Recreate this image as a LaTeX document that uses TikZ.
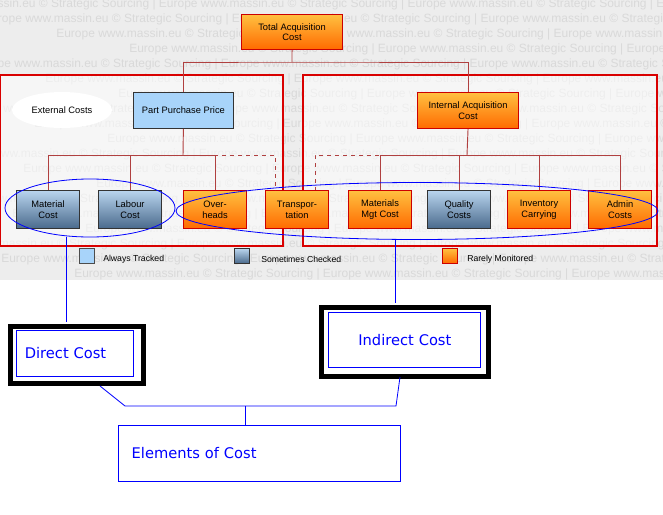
\documentclass[tikz,border=0pt]{standalone}
\usepackage{fontspec}
\usetikzlibrary{shapes.geometric}
\setmainfont{Liberation Sans}
\newfontfamily\dvs{DejaVu Sans}
\definecolor{skyb}{HTML}{A8D4FA}
\definecolor{sbtop}{HTML}{B8D4EE}
\definecolor{sbbot}{HTML}{4A6A8C}
\definecolor{orTop}{HTML}{FFC040}
\definecolor{orBot}{HTML}{FF6A00}
\definecolor{busc}{HTML}{B04040}
\begin{document}
\begin{tikzpicture}[x=0.75pt,y=-0.75pt,
  org/.style={draw=red!80!black,line width=0.8pt,top color=orTop,bottom color=orBot,font=\fontsize{7}{8}\selectfont,align=center,inner sep=0pt,anchor=north west},
  sbl/.style={draw=black!80,line width=0.8pt,top color=sbtop,bottom color=sbbot,font=\fontsize{7}{8}\selectfont,align=center,inner sep=0pt,anchor=north west},
  lbl/.style={draw=black!80,line width=0.6pt,fill=skyb,font=\fontsize{7}{8}\selectfont,align=center,inner sep=0pt,anchor=north west},
  bus/.style={draw=busc,line width=0.7pt},
  dbus/.style={bus,dashed},
  redbox/.style={draw=red!85!black,line width=1pt,fill=white,fill opacity=0.55},
  bel/.style={draw=blue,line width=0.6pt},
  wm/.style={text=black!15,font=\fontsize{9}{9}\selectfont,anchor=west,inner sep=0pt}]
\useasboundingbox (0,0) rectangle (663,514);
\fill[black!7] (0,0) rectangle (663,280);
\begin{scope}
\clip (0,0) rectangle (663,280);
\foreach \i in {0,...,18}{
  \pgfmathsetmacro\yy{4+15*\i}
  \pgfmathsetmacro\xx{-90+mod(\i*73,230)}
  \node[wm] (w\i) at (\xx,\yy) {Europe www.massin.eu © Strategic Sourcing | Europe www.massin.eu © Strategic Sourcing | Europe www.massin.eu © Strategic Sourcing | Europe www.massin.eu © Strategic Sourcing};
}
\end{scope}
\draw[redbox] (0,75) rectangle (283,246);
\draw[redbox] (303,75) rectangle (657,246);
% top nodes
\node[org,minimum width=101pt*0.75,minimum height=35pt*0.75] (tac) at (241,14) {Total Acquisition\\Cost};
\node[lbl,minimum width=100pt*0.75,minimum height=36pt*0.75] (ppp) at (133,92) {Part Purchase Price};
\node[org,minimum width=101pt*0.75,minimum height=36pt*0.75] (iac) at (417,92) {Internal Acquisition\\Cost};
\node[ellipse,fill=white,minimum width=100pt*0.75,minimum height=36pt*0.75,font=\fontsize{7}{8}\selectfont] (ext) at (62,110) {External Costs};
% bottom row
\tikzset{bw/.style={minimum width=63pt*0.75,minimum height=38pt*0.75}}
\node[sbl,bw] (mat) at (16,190) {Material\\Cost};
\node[sbl,bw] (lab) at (98,190) {Labour\\Cost};
\node[org,bw] (ovh) at (183,190) {Over-\\heads};
\node[org,bw] (tra) at (265,190) {Transpor-\\tation};
\node[org,bw] (mmc) at (348,190) {Materials\\Mgt Cost};
\node[sbl,bw] (qua) at (427,190) {Quality\\Costs};
\node[org,bw] (inv) at (507,190) {Inventory\\Carrying};
\node[org,bw] (adm) at (588,190) {Admin\\Costs};
% connectors
\draw[bus] (tac.south) -- (292,62) coordinate (tj);
\draw[bus] (ppp.north) |- (tj) -| (iac.north);
\coordinate (lb) at (183,155);
\coordinate (rb) at (467,155);
\draw[bus] (ppp.south) -- (lb);
\draw[bus] (mat.north) |- (lb);
\draw[bus] (lab.north) |- (lb);
\draw[bus] (ovh.north) |- (lb);
\draw[dbus] (214,155) -| (275,190);
\draw[bus] (iac.south) -- (rb);
\draw[bus] (mmc.north) |- (rb);
\draw[bus] (qua.north) |- (rb);
\draw[bus] (inv.north) |- (rb);
\draw[bus] (adm.north) |- (rb);
\draw[dbus] (379,155) -| (315,190);
% legend
\node[draw=black!70,fill=skyb,minimum size=11pt,inner sep=0pt] (l1) at (87,256) {};
\node[anchor=west,font=\fontsize{6.5}{7}\selectfont,inner sep=0pt] (l1t) at (103,259) {Always Tracked};
\node[draw=black!80,top color=sbtop,bottom color=sbbot,minimum size=11pt,inner sep=0pt] (l2) at (242,256) {};
\node[anchor=west,font=\fontsize{6.5}{7}\selectfont,inner sep=0pt] (l2t) at (261,259) {Sometimes Checked};
\node[draw=red!80!black,top color=orTop,bottom color=orBot,minimum size=11pt,inner sep=0pt] (l3) at (450,256) {};
\node[anchor=west,font=\fontsize{6.5}{7}\selectfont,inner sep=0pt] (l3t) at (467,259) {Rarely Monitored};
% blue ellipses
\node[ellipse,bel,minimum width=170pt*0.75,minimum height=58pt*0.75] (e1) at (90,208) {};
\node[ellipse,bel,minimum width=482pt*0.75,minimum height=57pt*0.75] (e2) at (417,211) {};
% lower boxes
\node[draw=black,line width=3.5pt,minimum width=133pt*0.75,minimum height=57pt*0.75,anchor=north west] (dco) at (8,324) {};
\node[draw=blue,line width=0.5pt,minimum width=117pt*0.75,minimum height=46pt*0.75,anchor=north west,font=\dvs\fontsize{11}{12}\selectfont,text=blue,align=left,text width=100pt*0.75] (dct) at (16,330) {Direct Cost\\[2pt]};
\node[draw=black,line width=3.5pt,minimum width=167pt*0.75,minimum height=69pt*0.75,anchor=north west] (ico) at (319,305) {};
\node[draw=blue,line width=0.5pt,minimum width=152pt*0.75,minimum height=55pt*0.75,anchor=north west,font=\dvs\fontsize{11}{12}\selectfont,text=blue,align=left,text width=140pt*0.75] (ict) at (328,312) {\hspace*{18pt}Indirect Cost\\[14pt]};
\node[draw=blue,line width=0.5pt,minimum width=282pt*0.75,minimum height=56pt*0.75,anchor=north west,font=\dvs\fontsize{11}{12}\selectfont,text=blue,align=left,text width=266pt*0.75] (eoc) at (118,425) {\hspace*{4pt}Elements of Cost\\[16pt]};
\coordinate (j1) at (125,406);
\coordinate (j2) at (245,406);
\coordinate (j3) at (396,406);
\draw[bel] (66,237) -- (66,322);
\draw[bel] (395,240) -- (395,303);
\draw[bel] (100,386) -- (j1) -- (j3) -- (400,377);
\draw[bel] (j2) -- (eoc.north -| j2);
\end{tikzpicture}
\end{document}
